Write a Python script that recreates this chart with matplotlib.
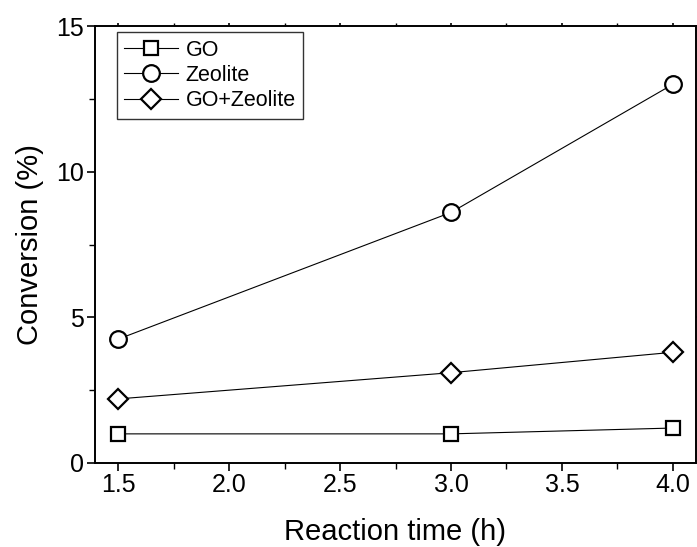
import matplotlib
matplotlib.use("Agg")
import matplotlib.pyplot as plt
from matplotlib.ticker import MultipleLocator, FormatStrFormatter

plt.rcParams['font.family'] = ['Liberation Sans', 'DejaVu Sans']

# Reaction time (h) and conversion (%) for each catalyst
time_h = [1.5, 3.0, 4.0]
go_conv = [1.0, 1.0, 1.2]
zeolite_conv = [4.25, 8.6, 13.0]
go_zeolite_conv = [2.2, 3.1, 3.8]
series_labels = ["GO", "Zeolite", "GO+Zeolite"]

fig = plt.figure(figsize=(6.97, 5.47), dpi=100)
ax = fig.add_axes([95 / 697, (547 - 463) / 547, (696 - 95) / 697, (463 - 26) / 547])

style = dict(color='black', lw=0.8, mfc='white', mec='black', mew=1.6)
ax.plot(time_h, go_conv, marker='s', ms=10, label=series_labels[0], **style)
ax.plot(time_h, zeolite_conv, marker='o', ms=12, label=series_labels[1], **style)
ax.plot(time_h, go_zeolite_conv, marker='D', ms=10, label=series_labels[2], **style)

ax.set_xlim(1.396, 4.104)
ax.set_ylim(0, 15)
ax.xaxis.set_major_locator(MultipleLocator(0.5))
ax.xaxis.set_minor_locator(MultipleLocator(0.25))
ax.yaxis.set_major_locator(MultipleLocator(5))
ax.yaxis.set_minor_locator(MultipleLocator(2.5))
ax.xaxis.set_major_formatter(FormatStrFormatter('%.1f'))

# outward ticks on the left/bottom, tiny marks on the top/right frame
ax.tick_params(which='major', direction='out', length=6, width=1.2, labelsize=18)
ax.tick_params(which='minor', direction='out', length=4, width=1.0)
ax.tick_params(axis='x', which='major', pad=1)
ax.tick_params(axis='y', which='major', pad=2)
ax.tick_params(which='both', top=True, right=True)
for t in ax.xaxis.get_ticklines(minor=False)[1::2] + ax.xaxis.get_ticklines(minor=True)[1::2]:
    t.set_markersize(2)
for t in ax.yaxis.get_ticklines(minor=False)[1::2] + ax.yaxis.get_ticklines(minor=True)[1::2]:
    t.set_markersize(2)
for s in ax.spines.values():
    s.set_linewidth(1.4)

ax.set_xlabel("Reaction time (h)", fontsize=21, labelpad=15)
ax.set_ylabel("Conversion (%)", fontsize=21, labelpad=9)

leg = ax.legend(loc='upper left', bbox_to_anchor=(0.036, 0.986), fontsize=15.5,
                numpoints=1, handlelength=2.5, handletextpad=0.35,
                labelspacing=0.2, borderpad=0.35, borderaxespad=0,
                fancybox=False, frameon=True)
leg.get_frame().set_edgecolor('black')
leg.get_frame().set_linewidth(1.0)

fig.savefig("out.png", dpi=100)
